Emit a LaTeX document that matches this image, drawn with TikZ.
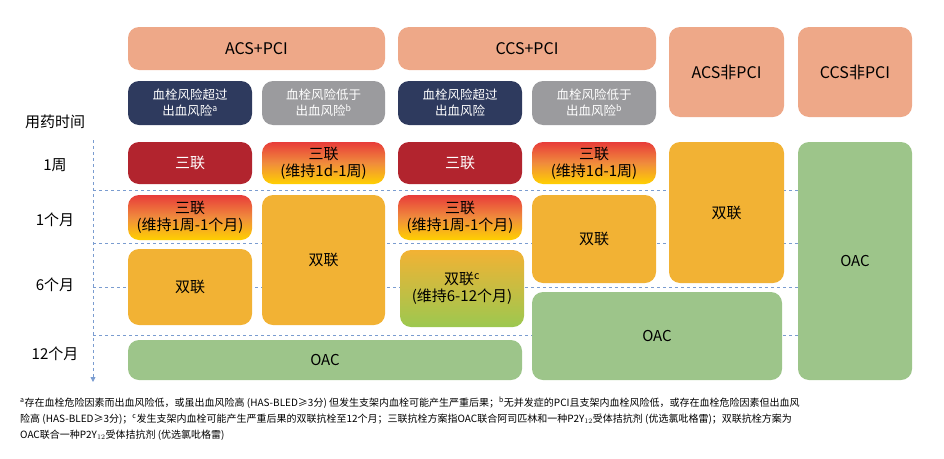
\documentclass[tikz,border=0pt]{standalone}
\usepackage{fontspec}
\setmainfont{Noto Sans CJK SC}
\usetikzlibrary{arrows.meta}
\begin{document}
\begin{tikzpicture}[x=1pt,y=-1pt]
	\definecolor{chead}{RGB}{238,168,136}
	\definecolor{cnavy}{RGB}{46,58,94}
	\definecolor{cgrey}{RGB}{155,155,158}
	\definecolor{cred}{RGB}{178,36,46}
	\definecolor{cdual}{RGB}{242,178,52}
	\definecolor{coac}{RGB}{157,197,138}
	\definecolor{cline}{RGB}{122,156,208}
	\definecolor{cgtop}{RGB}{232,60,58}
	\definecolor{cgmid}{RGB}{240,140,60}
	\definecolor{cgbot}{RGB}{255,208,0}
	\definecolor{cggrn}{RGB}{156,200,80}
	\tikzset{
		box/.style={rounded corners=11pt,inner sep=1pt,align=center,font=\fontsize{15}{17}\selectfont},
		headbox/.style={box,fill=chead,font=\fontsize{16}{18}\selectfont},
		subbox/.style={box,text=white,font=\fontsize{12.5}{16}\selectfont},
		tribox/.style={box,top color=cgtop,bottom color=cgbot,middle color=cgmid},
		grid/.style={cline,dashed,line width=0.8pt},
		timelbl/.style={font=\fontsize{15}{17}\selectfont}
	}
	\useasboundingbox (0,0) rectangle (944,458);
	% grid
	\coordinate (a0) at (93,140);
	\coordinate (a1) at (93,382);
	\foreach \yy in {190,243,287,335}
		\draw[grid] (93,\yy) -- (912,\yy);
	\draw[grid,-{Triangle[length=5pt,width=5pt]}] (a0) -- (a1);
	%
	\node[timelbl] (tt) at (55,122) {用药时间};
	\node[timelbl] (t1) at (55,165) {1周};
	\node[timelbl] (t2) at (55,220) {1个月};
	\node[timelbl] (t3) at (55,285) {6个月};
	\node[timelbl] (t4) at (55,354) {12个月};
	%
	\node[headbox,minimum width=257pt,minimum height=43pt] (h1) at (256.5,48.5) {ACS+PCI};
	\node[headbox,minimum width=258pt,minimum height=43pt] (h2) at (527,48.5) {CCS+PCI};
	\node[headbox,minimum width=115pt,minimum height=90pt] (h3) at (726.5,72) {ACS非PCI};
	\node[headbox,minimum width=114pt,minimum height=90pt] (h4) at (855,72) {CCS非PCI};
	%
	\node[subbox,fill=cnavy,minimum width=124pt,minimum height=44pt] (s1) at (190,103) {血栓风险超过\\出血风险\textsuperscript{a}};
	\node[subbox,fill=cgrey,minimum width=123pt,minimum height=44pt] (s2) at (323.5,103) {血栓风险低于\\出血风险\textsuperscript{b}};
	\node[subbox,fill=cnavy,minimum width=124pt,minimum height=44pt] (s3) at (460,103) {血栓风险超过\\出血风险};
	\node[subbox,fill=cgrey,minimum width=124pt,minimum height=44pt] (s4) at (594,103) {血栓风险低于\\出血风险\textsuperscript{b}};
	%
	\node[box,fill=cred,text=white,minimum width=124pt,minimum height=42pt] (r1) at (190,163) {三联};
	\node[tribox,minimum width=123pt,minimum height=42pt] (r2) at (323.5,163) {三联\\(维持1d-1周)};
	\node[box,fill=cred,text=white,minimum width=124pt,minimum height=42pt] (r3) at (460,163) {三联};
	\node[tribox,minimum width=124pt,minimum height=42pt] (r4) at (594,163) {三联\\(维持1d-1周)};
	%
	\node[tribox,minimum width=124pt,minimum height=45pt] (m1) at (190,217.5) {三联\\(维持1周-1个月)};
	\node[box,fill=cdual,minimum width=123pt,minimum height=130pt] (m2) at (323.5,260) {双联};
	\node[tribox,minimum width=124pt,minimum height=45pt] (m3) at (460,217.5) {三联\\(维持1周-1个月)};
	\node[box,fill=cdual,minimum width=124pt,minimum height=88pt] (m4) at (594,239) {双联};
	\node[box,fill=cdual,minimum width=115pt,minimum height=141pt] (m5) at (726.5,212.5) {双联};
	\node[box,fill=coac,minimum width=114pt,minimum height=238pt] (m6) at (855,261) {OAC};
	%
	\node[box,fill=cdual,minimum width=124pt,minimum height=76pt] (d1) at (190,287) {双联};
	\node[box,top color=cdual,bottom color=cggrn,minimum width=124pt,minimum height=77pt] (d3) at (462,288.5) {双联\textsuperscript{c}\\(维持6-12个月)};
	\node[box,fill=coac,minimum width=250pt,minimum height=88pt] (o2) at (657,336) {OAC};
	\node[box,fill=coac,minimum width=394pt,minimum height=40pt] (o1) at (325,360) {OAC};
	%
	\node[anchor=north west,align=left,inner sep=0pt,font=\fontsize{10}{16}\selectfont] (fn) at (20,397)
		{\textsuperscript{a}存在血栓危险因素而出血风险低，或虽出血风险高 (HAS-BLED≥3分) 但发生支架内血栓可能产生严重后果；\textsuperscript{b}无并发症的PCI且支架内血栓风险低，或存在血栓危险因素但出血风\\
		险高 (HAS-BLED≥3分)；\textsuperscript{c}发生支架内血栓可能产生严重后果的双联抗栓至12个月；三联抗栓方案指OAC联合阿司匹林和一种P2Y$_{12}$受体拮抗剂 (优选氯吡格雷)；双联抗栓方案为\\
		OAC联合一种P2Y$_{12}$受体拮抗剂 (优选氯吡格雷)};
\end{tikzpicture}
\end{document}
